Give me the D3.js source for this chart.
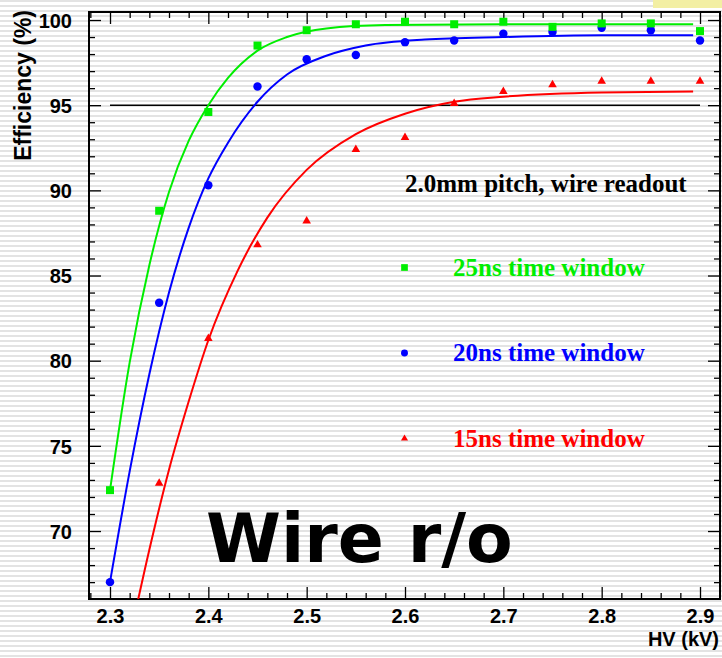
<!DOCTYPE html>
<html>
<head>
<meta charset="utf-8">
<script src="https://cdn.jsdelivr.net/npm/d3@7"></script>
<style>
  body { margin: 0; background: #fff; }
  svg { display: block; }
</style>
</head>
<body>
<div id="canvas"></div>
<script>
// measured points (efficiency in %)
var hv     = [2.30, 2.35, 2.40, 2.45, 2.50, 2.55, 2.60, 2.65, 2.70, 2.75, 2.80, 2.85, 2.90];
var eff25  = [72.4, 88.8, 94.6, 98.5, 99.4, 99.75, 99.9, 99.75, 99.9, 99.6, 99.8, 99.8, 99.35];
var eff20  = [67.0, 83.4, 90.3, 96.1, 97.7, 97.95, 98.7, 98.8, 99.2, 99.3, 99.55, 99.4, 98.8];
var eff15  = [null, 72.8, 81.3, 86.8, 88.2, 92.4, 93.1, 95.1, 95.8, 96.2, 96.4, 96.4, 96.4];

// fitted curves
var fitHv25 = [2.30, 2.32, 2.34, 2.36, 2.38, 2.40, 2.42, 2.45, 2.48, 2.52, 2.58, 2.70, 2.893];
var fit25   = [72.4, 79.9, 85.6, 89.9, 92.9, 95.0, 96.6, 98.2, 99.0, 99.5, 99.7, 99.75, 99.75];
var fitHv20 = [2.30, 2.32, 2.34, 2.36, 2.38, 2.40, 2.42, 2.45, 2.48, 2.52, 2.56, 2.62, 2.70, 2.80, 2.893];
var fit20   = [67.0, 73.5, 79.2, 84.0, 87.8, 90.7, 92.8, 95.2, 96.8, 97.9, 98.5, 98.85, 99.0, 99.1, 99.1];
var fitHv15 = [2.32, 2.34, 2.36, 2.38, 2.40, 2.43, 2.46, 2.50, 2.55, 2.60, 2.65, 2.70, 2.80, 2.893];
var fit15   = [63.7, 68.9, 73.6, 77.6, 81.2, 85.3, 88.4, 91.2, 93.3, 94.5, 95.2, 95.5, 95.75, 95.8];

var threshold = 95;
var legendNames  = ["25ns time window", "20ns time window", "15ns time window"];
var legendColors = ["#00ee00", "#0000ff", "#ff0000"];

var xMajor = [2.3, 2.4, 2.5, 2.6, 2.7, 2.8, 2.9];
var yMajor = [70, 75, 80, 85, 90, 95, 100];

var W = 722, H = 658;
var margin = {top: 12, right: 2, bottom: 59, left: 89};
var width = W - margin.left - margin.right,
    height = H - margin.top - margin.bottom;

var svg = d3.select("#canvas").append("svg")
    .attr("width", W)
    .attr("height", H);

// striped slide background
var defs = svg.append("defs");
var pat = defs.append("pattern")
    .attr("id", "stripes")
    .attr("patternUnits", "userSpaceOnUse")
    .attr("width", 10).attr("height", 5);
pat.append("rect").attr("width", 10).attr("height", 5).attr("fill", "#fff");
pat.append("rect").attr("y", 0).attr("width", 10).attr("height", 2).attr("fill", "#e3e3e3");
svg.append("rect").attr("width", W).attr("height", H).attr("fill", "url(#stripes)");
svg.append("rect").attr("x", 653).attr("y", 0).attr("width", 69).attr("height", 8).attr("fill", "#f3efa3");

defs.append("clipPath").attr("id", "frameClip")
  .append("rect").attr("width", width).attr("height", height);

var g = svg.append("g")
    .attr("transform", "translate(" + margin.left + "," + margin.top + ")");

var x = d3.scaleLinear().domain([2.27864, 2.92033]).range([0, width]);
var y = d3.scaleLinear().domain([66.01, 100.47]).range([height, 0]);

var xMinor = d3.range(2.28, 2.921, 0.02).filter(function(v) {
  return Math.abs(Math.round(v * 10) - v * 10) > 0.01;
});
var yMinor = d3.range(67, 101, 1).filter(function(v) { return v % 5 !== 0; });

var labelFont = "'Liberation Sans', Arial, Helvetica, sans-serif";

function styleAxis(sel) {
  sel.select(".domain").remove();
  sel.selectAll("line").attr("stroke", "#000").attr("stroke-width", 1.3);
  sel.selectAll("text")
    .attr("fill", "#000")
    .style("font-family", labelFont)
    .style("font-weight", "bold");
}

// bottom axis
g.append("g").attr("transform", "translate(0," + height + ")")
  .call(d3.axisBottom(x).tickValues(xMajor).tickSize(-12).tickPadding(10).tickFormat(d3.format(".1f")))
  .call(styleAxis)
  .selectAll("text").style("font-size", "20px").attr("dy", "0.72em");
g.append("g").attr("transform", "translate(0," + height + ")")
  .call(d3.axisBottom(x).tickValues(xMinor).tickSize(-6).tickFormat(""))
  .call(styleAxis);
// top axis
g.append("g")
  .call(d3.axisTop(x).tickValues(xMajor).tickSize(-12).tickFormat(""))
  .call(styleAxis);
g.append("g")
  .call(d3.axisTop(x).tickValues(xMinor).tickSize(-6).tickFormat(""))
  .call(styleAxis);
// left axis
g.append("g")
  .call(d3.axisLeft(y).tickValues(yMajor).tickSize(-12).tickPadding(17))
  .call(styleAxis)
  .selectAll("text").style("font-size", "20px").attr("dy", "0.36em");
g.append("g")
  .call(d3.axisLeft(y).tickValues(yMinor).tickSize(-6).tickFormat(""))
  .call(styleAxis);
// right axis
g.append("g").attr("transform", "translate(" + width + ",0)")
  .call(d3.axisRight(y).tickValues(yMajor).tickSize(-12).tickFormat(""))
  .call(styleAxis);
g.append("g").attr("transform", "translate(" + width + ",0)")
  .call(d3.axisRight(y).tickValues(yMinor).tickSize(-6).tickFormat(""))
  .call(styleAxis);

// frame
g.append("rect")
  .attr("width", width).attr("height", height)
  .attr("fill", "none").attr("stroke", "#000").attr("stroke-width", 2);

// 95% reference line
g.append("line")
  .attr("x1", x(2.3)).attr("x2", x(2.9))
  .attr("y1", y(threshold)).attr("y2", y(threshold))
  .attr("stroke", "#000").attr("stroke-width", 1.6);

var line = d3.line()
  .x(function(d) { return x(d[0]); })
  .y(function(d) { return y(d[1]); })
  .curve(d3.curveMonotoneX);

var plot = g.append("g").attr("clip-path", "url(#frameClip)");

var fits = [
  {xs: fitHv15, ys: fit15, color: legendColors[2]},
  {xs: fitHv20, ys: fit20, color: legendColors[1]},
  {xs: fitHv25, ys: fit25, color: legendColors[0]}
];
fits.forEach(function(f) {
  plot.append("path")
    .datum(d3.zip(f.xs, f.ys))
    .attr("d", line)
    .attr("fill", "none")
    .attr("stroke", f.color)
    .attr("stroke-width", 2);
});

var series = [
  {ys: eff15, color: legendColors[2], type: d3.symbolTriangle, size: 32},
  {ys: eff20, color: legendColors[1], type: d3.symbolCircle, size: 56},
  {ys: eff25, color: legendColors[0], type: d3.symbolSquare, size: 64}
];
series.forEach(function(s) {
  var pts = d3.zip(hv, s.ys).filter(function(d) { return d[1] !== null; });
  plot.selectAll(null)
    .data(pts)
    .enter().append("path")
    .attr("transform", function(d) { return "translate(" + x(d[0]) + "," + y(d[1]) + ")"; })
    .attr("d", d3.symbol().type(s.type).size(s.size))
    .attr("fill", s.color);
});

// legend
var serif = "'Liberation Serif', 'Times New Roman', Times, serif";
svg.append("text")
  .attr("x", 405).attr("y", 192)
  .style("font-family", serif).style("font-weight", "bold").style("font-size", "25px")
  .attr("fill", "#000")
  .text("2.0mm pitch, wire readout");

var legendSymbols = [d3.symbolSquare, d3.symbolCircle, d3.symbolTriangle];
var legendSizes = [45, 38, 22];
legendNames.forEach(function(name, i) {
  var ly = 267.5 + i * 85.5;
  svg.append("path")
    .attr("transform", "translate(404.5," + ly + ")")
    .attr("d", d3.symbol().type(legendSymbols[i]).size(legendSizes[i]))
    .attr("fill", legendColors[i]);
  svg.append("text")
    .attr("x", 453).attr("y", ly + 8)
    .style("font-family", serif).style("font-weight", "bold").style("font-size", "25px")
    .attr("fill", legendColors[i])
    .text(name);
});

// axis titles
svg.append("text")
  .attr("x", 719).attr("y", 646)
  .attr("text-anchor", "end")
  .style("font-family", labelFont).style("font-weight", "bold").style("font-size", "20px")
  .text("HV (kV)");
svg.append("text")
  .attr("transform", "translate(31,10) rotate(-90)")
  .attr("text-anchor", "end")
  .style("font-family", labelFont).style("font-weight", "bold").style("font-size", "23px")
  .text("Efficiency (%)");

// big label
svg.append("text")
  .attr("x", 206).attr("y", 562)
  .style("font-family", "'DejaVu Sans', Verdana, sans-serif").style("font-weight", "bold").style("font-size", "68px")
  .attr("fill", "#000")
  .text("Wire r/o");
</script>
</body>
</html>
